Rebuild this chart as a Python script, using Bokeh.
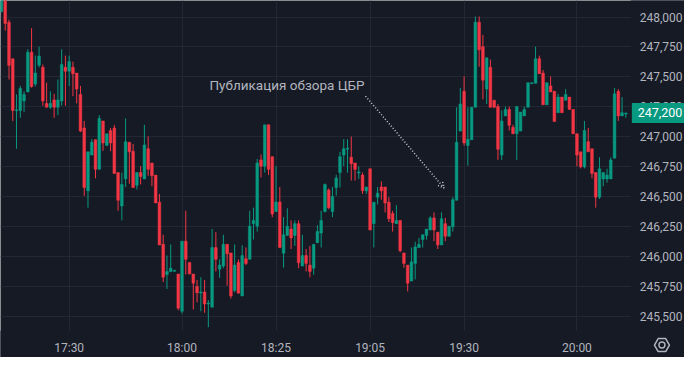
from bokeh.plotting import figure
from bokeh.models import (Range1d, FixedTicker, NumeralTickFormatter, Label, Arrow,
                          OpenHead, BoxAnnotation, ColumnDataSource)
from bokeh.embed import file_html
from bokeh.resources import INLINE

# ---------------- data (1-minute candles) ----------------
opens = [248045, 248150, 247957, 247652, 247218, 247221, 247300, 247375, 247707, 247441,
         247598, 247580, 247279, 247247, 247308, 247247, 247300, 247580, 247548, 247580,
         247532, 247354, 247074, 246550, 246848, 246976, 246729, 247133, 246928, 247053,
         247074, 246702, 246423, 246649, 246955, 246880, 246596, 246702, 246649, 246901,
         246782, 246681, 246455, 246103, 245851, 245877, 245880, 245856, 245545, 246130,
         245952, 245856, 245752, 245699, 245705, 245606, 245579, 246077, 245896, 245922,
         246103, 246032, 245718, 245952, 245672, 245984, 245978, 246276, 246255, 246808,
         246755, 247101, 246835, 246377, 246457, 246029, 246178, 246231, 246178, 246276,
         245922, 246010, 245930, 245904, 246117, 246197, 246377, 246556, 246377, 246577,
         246702, 246848, 246898, 246830, 246782, 246700, 246681, 246550,
         246734, 246276, 246497, 246582, 246582, 246455, 246361, 246276, 246303, 246032,
         245930, 245797, 245944, 246077, 246143, 246178, 246223, 246324, 246205, 246098,
         246276, 246170, 246250, 246471, 247048, 247380, 246928, 246976, 247247, 247957,
         247753, 247399, 247580, 247306, 247253, 246848, 247175, 247229, 247080, 247026,
         247048, 247175, 247247, 247445, 247447, 247652, 247532, 247268, 247425, 247380,
         247202, 247332, 247306, 247332, 247229, 247026, 246875, 246750, 246960, 246901,
         246702, 246497, 246649, 246649, 246649, 246822, 247380, 247175, 247190]
highs = [248180, 248170, 247979, 247652, 247354, 247425, 247380, 247731, 247907, 247678,
         247753, 247604, 247452, 247380, 247359, 247479, 247731, 247678, 247678, 247628,
         247532, 247425, 247133, 246875, 246981, 246976, 247181, 247133, 247026, 247074,
         247101, 246702, 246702, 247154, 246955, 246941, 246702, 246755, 247101, 247003,
         246782, 246681, 246524, 246183, 246010, 246103, 245890, 245856, 246130, 246383,
         245952, 245856, 245806, 245829, 245806, 245638, 246231, 246205, 245978, 246183,
         246103, 246032, 246103, 245978, 246095, 246077, 246383, 246409, 246816, 246853,
         247101, 247101, 246835, 246755, 246582, 246330, 246404, 246303, 246303, 246303,
         246183, 246064, 246090, 246103, 246263, 246383, 246610, 246570, 246582, 246683,
         246875, 246981, 246981, 247003, 246782, 246755, 246702, 246582,
         246734, 246455, 246582, 246630, 246582, 246497, 246383, 246430, 246303, 246032,
         245930, 246077, 246125, 246157, 246183, 246231, 246338, 246370, 246205, 246370,
         246324, 246255, 246497, 247247, 247407, 247505, 247247, 247247, 248005, 248005,
         247851, 247660, 247646, 247306, 247274, 247221, 247253, 247253, 247101, 247253,
         247207, 247253, 247452, 247452, 247753, 247678, 247558, 247452, 247505, 247380,
         247359, 247332, 247399, 247332, 247229, 247026, 246875, 247133, 247074, 246901,
         246702, 246830, 246702, 246734, 246830, 247407, 247399, 247332, 247200]
lows = [248040, 247886, 247479, 247133, 246901, 247159, 247207, 247375, 247410, 247420,
        247580, 247260, 247247, 247234, 247159, 247181, 247260, 247260, 247425, 247340,
        247279, 247040, 246508, 246409, 246848, 246654, 246729, 246883, 246928, 246880,
        246694, 246383, 246303, 246582, 246609, 246577, 246561, 246603, 246649, 246675,
        246588, 246449, 246098, 245789, 245731, 245870, 245875, 245553, 245526, 245851,
        245856, 245559, 245619, 245545, 245532, 245412, 245579, 245877, 245824, 245904,
        245758, 245651, 245704, 245696, 245672, 245930, 245978, 246143, 246210, 246662,
        246702, 246681, 246330, 246377, 246077, 245909, 246178, 246064, 246090, 245904,
        245922, 245877, 245829, 245851, 246117, 246077, 246370, 246396, 246330, 246510,
        246577, 246755, 246702, 246635, 246635, 246649, 246524, 246524,
        246223, 246077, 246436, 246476, 246370, 246290, 246210, 246276, 246037, 245909,
        245710, 245797, 245811, 246077, 246077, 246143, 246223, 246130, 246064, 246098,
        246130, 246170, 246210, 246471, 247048, 246928, 246760, 246976, 247247, 247585,
        247314, 247274, 247247, 247240, 246808, 246808, 247175, 247053, 247026, 246808,
        247048, 247175, 247247, 247440, 247447, 247527, 247268, 247268, 247375, 247128,
        247202, 247202, 247306, 247229, 247026, 246755, 246737, 246737, 246875, 246654,
        246409, 246481, 246588, 246617, 246649, 246822, 247133, 247175, 247160]
closes = [248160, 247947, 247596, 247221, 247226, 247404, 247354, 247707, 247420, 247532,
          247675, 247300, 247247, 247279, 247247, 247308, 247604, 247548, 247628, 247527,
          247399, 247048, 246577, 246875, 246955, 246729, 247154, 246949, 247026, 246949,
          246694, 246471, 246603, 246960, 246875, 246577, 246702, 246670, 246933, 246729,
          246675, 246449, 246098, 245829, 245877, 245904, 245885, 245571, 246130, 245978,
          245856, 245779, 245699, 245705, 245606, 245612, 246077, 245978, 245930, 246103,
          246024, 245672, 245930, 245696, 246010, 245944, 246255, 246303, 246782, 246755,
          247101, 246729, 246356, 246457, 246077, 246183, 246255, 246157, 246276, 245949,
          246010, 245944, 245877, 246103, 246210, 246303, 246603, 246409, 246502, 246657,
          246835, 246901, 246904, 246776, 246729, 246705, 246550, 246582,
          246223, 246455, 246529, 246550, 246449, 246316, 246284, 246303, 246050, 245944,
          245779, 245957, 246082, 246103, 246183, 246231, 246324, 246223, 246098, 246316,
          246170, 246255, 246476, 246955, 247274, 246949, 246981, 247247, 247957, 247726,
          247473, 247660, 247247, 247247, 246896, 247133, 247229, 247096, 247026, 247253,
          247207, 247229, 247452, 247452, 247652, 247527, 247268, 247452, 247375, 247128,
          247332, 247202, 247354, 247229, 247026, 246848, 246750, 247053, 246875, 246694,
          246497, 246734, 246702, 246681, 246808, 247359, 247175, 247202, 247200]

sessions = [("17:12", "18:49"), ("19:05", "20:13")]
tick_labels = ["17:30", "18:00", "18:25", "19:05", "19:30", "20:00"]
y_ticks = [245500, 245750, 246000, 246250, 246500, 246750, 247000, 247250, 247500, 247750, 248000]
last_price = 247200
note_text = "Публикация обзора ЦБР"

# ---------------- build ----------------
def to_min(s):
    h, m = s.split(":")
    return int(h) * 60 + int(m)

times = []
for a, b in sessions:
    for t in range(to_min(a), to_min(b) + 1):
        times.append(f"{t // 60}:{t % 60:02d}")
n = len(opens)
xs = list(range(n))

UP, DOWN = "#089981", "#f23645"
BG = "#161a25"
GRID = "#242733"
TXT = "#b2b5be"

# layout of the pane (data units): candle pane edge and price-scale start
X_MIN, X_MAX = -0.26, 181.6          # full canvas width
PANE_RIGHT = 167.3                   # where the price scale begins
Y_MIN, Y_MAX = 245159, 248138        # full canvas height
PANE_BOTTOM = 245383                 # where the time scale begins
PX_Y = (Y_MAX - Y_MIN) / 357.0       # price units per pixel

tops, bots, cols = [], [], []
for o, c in zip(opens, closes):
    t, b = max(o, c), min(o, c)
    if t - b < 8:
        m = (t + b) / 2
        t, b = m + 4, m - 4
    tops.append(t)
    bots.append(b)
    cols.append(UP if c >= o else DOWN)

src = ColumnDataSource(dict(x=xs, top=tops, bottom=bots, high=highs, low=lows, color=cols))

p = figure(width=684, height=357, output_backend="svg", toolbar_location=None,
           x_range=Range1d(X_MIN, X_MAX), y_range=Range1d(Y_MIN, Y_MAX),
           y_axis_location="right", background_fill_color=BG, border_fill_color=BG,
           outline_line_color=None, min_border_left=0, min_border_top=0,
           min_border_right=0, min_border_bottom=0)

tick_pos = [times.index(t) for t in tick_labels]
p.xaxis.ticker = FixedTicker(ticks=tick_pos)
p.xaxis.major_label_overrides = {tp: lab for tp, lab in zip(tick_pos, tick_labels)}
p.xgrid.ticker = FixedTicker(ticks=tick_pos)
p.yaxis.ticker = FixedTicker(ticks=y_ticks)
p.ygrid.ticker = FixedTicker(ticks=y_ticks)
p.yaxis.formatter = NumeralTickFormatter(format="0,0")
p.xaxis.fixed_location = PANE_BOTTOM
p.yaxis.fixed_location = PANE_RIGHT

for ax in (p.xaxis[0], p.yaxis[0]):
    ax.axis_line_color = None
    ax.major_tick_line_color = None
    ax.minor_tick_line_color = None
    ax.major_tick_out = 0
    ax.major_tick_in = 0
    ax.minor_tick_out = 0
    ax.minor_tick_in = 0
    ax.major_label_text_color = TXT
    ax.major_label_text_font = "Roboto"
    ax.major_label_text_font_size = "12px"
p.yaxis.major_label_standoff = 9
p.xaxis.major_label_standoff = 10

for g in (p.xgrid[0], p.ygrid[0]):
    g.grid_line_color = GRID
    g.level = "image"

# price-scale and time-scale areas hide the grid
p.add_layout(BoxAnnotation(left=PANE_RIGHT, right=X_MAX + 5, bottom=Y_MIN - 100,
                           top=Y_MAX + 100, fill_color=BG, fill_alpha=1.0,
                           line_color=None, level="underlay"))
p.add_layout(BoxAnnotation(left=X_MIN - 5, right=X_MAX + 5, bottom=Y_MIN - 100,
                           top=PANE_BOTTOM, fill_color=BG, fill_alpha=1.0,
                           line_color=None, level="underlay"))

p.segment(x0="x", y0="low", x1="x", y1="high", color="color", line_width=1, source=src)
p.vbar(x="x", top="top", bottom="bottom", width=0.72, fill_color="color",
       line_color="color", line_width=0.5, source=src)

# annotation text and dotted arrow
p.add_layout(Label(x=55.3, y=247435, text=note_text, text_font="Roboto",
                   text_font_size="13.5px", text_color=TXT, text_baseline="middle"))
p.add_layout(Arrow(x_start=96.8, y_start=247340, x_end=117.7, y_end=246573,
                   line_color="#c9ccd3", line_width=1.5, line_dash="1 2",
                   end=OpenHead(size=6, line_color="#c9ccd3", line_width=1.5,
                                line_dash="1 2")))

# last price label on the price scale
p.add_layout(BoxAnnotation(left=PANE_RIGHT + 0.3, right=X_MAX + 5,
                           bottom=last_price - 10 * PX_Y, top=last_price + 10 * PX_Y,
                           fill_color=UP, fill_alpha=1.0, line_color=None))
p.add_layout(Label(x=PANE_RIGHT, y=last_price, x_offset=7, text=f"{last_price:,}",
                   text_color="#ffffff", text_font="Roboto", text_font_size="12.5px",
                   text_baseline="middle", text_align="left"))

# settings icon in the corner
p.scatter(x=[175.6], y=[245263], marker="hex", size=15, fill_color=None,
          line_color=TXT, line_width=1.5)
p.scatter(x=[175.6], y=[245263], marker="circle", size=6, fill_color=None,
          line_color=TXT, line_width=1.4)

open("out.html", "w").write(file_html(p, INLINE))
